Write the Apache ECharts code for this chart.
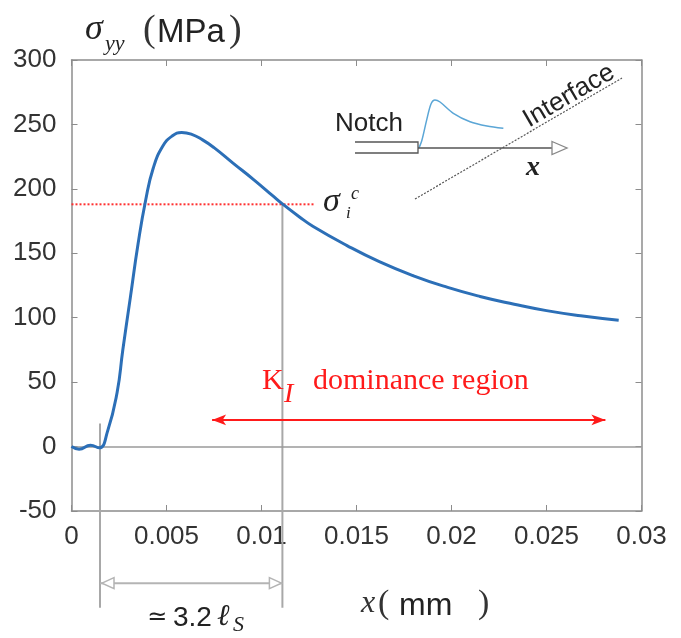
<!DOCTYPE html>
<html><head><meta charset="utf-8">
<script src="https://cdn.jsdelivr.net/npm/echarts@6/dist/echarts.min.js"></script>
<style>html,body{margin:0;padding:0;background:#fff}#c{width:681px;height:638px}</style>
</head><body><div id="c"></div>
<script>
// ---- data ----
const xValues = [0, 0.0004, 0.001, 0.00146, 0.0019, 0.0024, 0.0027, 0.0031, 0.0035, 0.0039, 0.0043, 0.0048, 0.0053, 0.0058, 0.0063, 0.0069, 0.0075, 0.0085, 0.0096, 0.0106, 0.0111, 0.0120, 0.0127, 0.0145, 0.0162, 0.0180, 0.0198, 0.0215, 0.0233, 0.0250, 0.0268, 0.0288];
const stress  = [0, -2, 1, -1, 12, 42, 75, 116, 157, 191, 216, 233, 241, 243.8, 242.5, 238, 232, 220, 207, 194.5, 188.3, 178.2, 171, 156, 143.5, 132.5, 123.5, 116.5, 110.5, 105.5, 101.5, 98];
const xTickLabels = ['0', '0.005', '0.01', '0.015', '0.02', '0.025', '0.03'];
const yTickLabels = ['-50', '0', '50', '100', '150', '200', '250', '300'];
const criticalStress = 188;
const criticalLineEnd = 0.0128;
const criticalX = 0.0111;
const onsetX = 0.0015;
const onsetTop = 18;
const guideBottom = -125;
const dimensionY = -106;
const kRegion = [0.0074, 0.0281];
const kArrowY = 20.7;
const insetX = [0, 0.02, 0.052, 0.081, 0.108, 0.142, 0.232, 0.345, 0.459, 0.57];
const insetY = [0, 0.15, 0.53, 0.83, 0.906, 0.868, 0.655, 0.496, 0.415, 0.372];

const SANS = 'Liberation Sans, Arial, sans-serif';
const SERIF = 'Liberation Serif, Times New Roman, serif';
const FRAME = '#8c8c8c';
const GUIDE = '#a8a8a8';

const chart = echarts.init(document.getElementById('c'));
const xFmt = v => xTickLabels[Math.round(v / 0.005)] ?? '';
const yFmt = v => yTickLabels[Math.round((v + 50) / 50)] ?? '';

const axisCommon = {
  axisLine: {show: true, onZero: false, lineStyle: {color: FRAME, width: 1.5}},
  axisTick: {show: true, inside: true, length: 6, lineStyle: {color: FRAME, width: 1}},
  splitLine: {show: false}
};

const option = {
  animation: false,
  backgroundColor: '#fff',
  grid: [
    {left: 71.5, top: 60, right: 39.5, bottom: 127},
    {left: 419, top: 95, width: 148, height: 53}
  ],
  xAxis: [
    Object.assign({type: 'value', gridIndex: 0, min: 0, max: 0.03, interval: 0.005,
      axisLabel: {fontSize: 26, fontFamily: SANS, color: '#333', margin: 13, formatter: xFmt}}, axisCommon),
    Object.assign({type: 'value', gridIndex: 0, position: 'top', min: 0, max: 0.03, interval: 0.005,
      axisLabel: {show: false}}, axisCommon),
    {type: 'value', gridIndex: 1, min: 0, max: 1, show: false}
  ],
  yAxis: [
    Object.assign({type: 'value', gridIndex: 0, min: -50, max: 300, interval: 50,
      axisLabel: {fontSize: 26, fontFamily: SANS, color: '#333', margin: 15, formatter: yFmt}}, axisCommon),
    Object.assign({type: 'value', gridIndex: 0, position: 'right', min: -50, max: 300, interval: 50,
      axisLabel: {show: false}}, axisCommon),
    {type: 'value', gridIndex: 1, min: 0, max: 1, show: false}
  ],
  series: [
    {
      type: 'line', xAxisIndex: 0, yAxisIndex: 0, z: 5,
      data: xValues.map((x, i) => [x, stress[i]]),
      smooth: 0.5, showSymbol: false,
      lineStyle: {color: '#2c6fb7', width: 3},
      markLine: {
        silent: true, symbol: 'none', label: {show: false},
        lineStyle: {color: '#9a9a9a', type: 'solid', width: 1.5},
        data: [{yAxis: 0}]
      }
    },
    {
      type: 'line', xAxisIndex: 0, yAxisIndex: 0, z: 4, showSymbol: false,
      data: [[0, criticalStress], [criticalLineEnd, criticalStress]],
      lineStyle: {color: '#ff3030', width: 2, type: [2, 2]}
    },
    {
      type: 'line', xAxisIndex: 0, yAxisIndex: 0, z: 3, showSymbol: false, clip: false,
      data: [[criticalX, criticalStress], [criticalX, guideBottom]],
      lineStyle: {color: GUIDE, width: 2}
    },
    {
      type: 'line', xAxisIndex: 0, yAxisIndex: 0, z: 3, showSymbol: false, clip: false,
      data: [[onsetX, onsetTop], [onsetX, guideBottom]],
      lineStyle: {color: GUIDE, width: 2}
    },
    {
      type: 'line', xAxisIndex: 0, yAxisIndex: 0, z: 3, showSymbol: false, clip: false,
      data: [[onsetX, dimensionY], [criticalX, dimensionY]],
      lineStyle: {color: '#b4b4b4', width: 2}
    },
    {
      type: 'line', xAxisIndex: 0, yAxisIndex: 0, data: [], showSymbol: false,
      markLine: {
        silent: true, symbol: ['arrow', 'arrow'], symbolSize: [8, 14], label: {show: false},
        lineStyle: {color: '#ff1a1a', type: 'solid', width: 2},
        data: [[{coord: [kRegion[0], kArrowY]}, {coord: [kRegion[1], kArrowY]}]]
      }
    },
    {
      type: 'line', xAxisIndex: 2, yAxisIndex: 2, showSymbol: false, smooth: 0.3,
      data: insetX.map((x, i) => [x, insetY[i]]),
      lineStyle: {color: '#5ba6d6', width: 1.5}
    }
  ]
};
chart.setOption(option);

// ---- annotations ----
const L = chart.convertToPixel({gridIndex: 0}, [onsetX, dimensionY]);
const R = chart.convertToPixel({gridIndex: 0}, [criticalX, dimensionY]);
const txt = (x, y, text, font, size, extra) => Object.assign({
  type: 'text', x: x, y: y, z: 20,
  style: Object.assign({text: text, fontFamily: font, fontSize: size, fill: '#222',
    verticalAlign: 'middle', align: 'left'}, extra || {})
});
const graphics = [
  {type: 'polygon', z: 10, shape: {points: [[L[0] + 2, L[1]], [L[0] + 14, L[1] - 5.5], [L[0] + 14, L[1] + 5.5]]},
    style: {fill: '#fff', stroke: '#b4b4b4', lineWidth: 1.5}},
  {type: 'polygon', z: 10, shape: {points: [[R[0] - 1, R[1]], [R[0] - 13, R[1] - 5.5], [R[0] - 13, R[1] + 5.5]]},
    style: {fill: '#fff', stroke: '#b4b4b4', lineWidth: 1.5}},
  {type: 'polyline', z: 10, shape: {points: [[355, 142], [418, 142], [418, 153], [355, 153]]},
    style: {stroke: '#555', lineWidth: 1.3, fill: null}},
  {type: 'line', z: 10, shape: {x1: 418, y1: 148, x2: 553, y2: 148}, style: {stroke: '#555', lineWidth: 1.3}},
  {type: 'polygon', z: 10, shape: {points: [[552, 141.5], [567, 148], [552, 154.5]]},
    style: {fill: '#fff', stroke: '#888', lineWidth: 1.3}},
  {type: 'line', z: 10, shape: {x1: 415, y1: 199, x2: 622, y2: 78},
    style: {stroke: '#555', lineWidth: 1.2, lineDash: [2, 1.5]}},
  txt(335, 124, 'Notch', SANS, 26),
  {type: 'text', x: 569, y: 96, rotation: 0.528, z: 20,
    style: {text: 'Interface', fontFamily: SANS, fontSize: 26, fill: '#222', align: 'center', verticalAlign: 'middle'}},
  txt(526, 168, 'x', SERIF, 28, {fontStyle: 'italic', fontWeight: 'bold'}),
  txt(323, 202, 'σ', SERIF, 34, {fontStyle: 'italic'}),
  txt(346, 214, 'i', SERIF, 17, {fontStyle: 'italic'}),
  txt(351, 194, 'c', SERIF, 18, {fontStyle: 'italic'}),
  txt(262, 381, 'K', SERIF, 30, {fill: '#ff1a1a'}),
  txt(284, 395, 'I', SERIF, 28, {fill: '#ff1a1a', fontStyle: 'italic'}),
  txt(313, 381, 'dominance region', SERIF, 30, {fill: '#ff1a1a'}),
  txt(85, 30, 'σ', SERIF, 36, {fontStyle: 'italic'}),
  txt(105, 44, 'yy', SERIF, 22, {fontStyle: 'italic'}),
  txt(143, 31, '(', SERIF, 38, {fill: '#333'}),
  txt(157, 33, 'MPa', SANS, 33),
  txt(229, 31, ')', SERIF, 38, {fill: '#333'}),
  txt(361, 604, 'x', SERIF, 32, {fontStyle: 'italic', fill: '#333'}),
  txt(378, 604, '(', SERIF, 34, {fill: '#333'}),
  txt(399, 606, 'mm', SANS, 32),
  txt(478, 604, ')', SERIF, 34, {fill: '#333'}),
  txt(147, 618, '≃', 'DejaVu Sans', 24),
  txt(173, 618, '3.2', SANS, 28),
  txt(217, 617, 'ℓ', SERIF, 30, {fontStyle: 'italic'}),
  txt(233, 625, 'S', SERIF, 22, {fontStyle: 'italic'})
];
chart.setOption({graphic: graphics});
</script></body></html>
